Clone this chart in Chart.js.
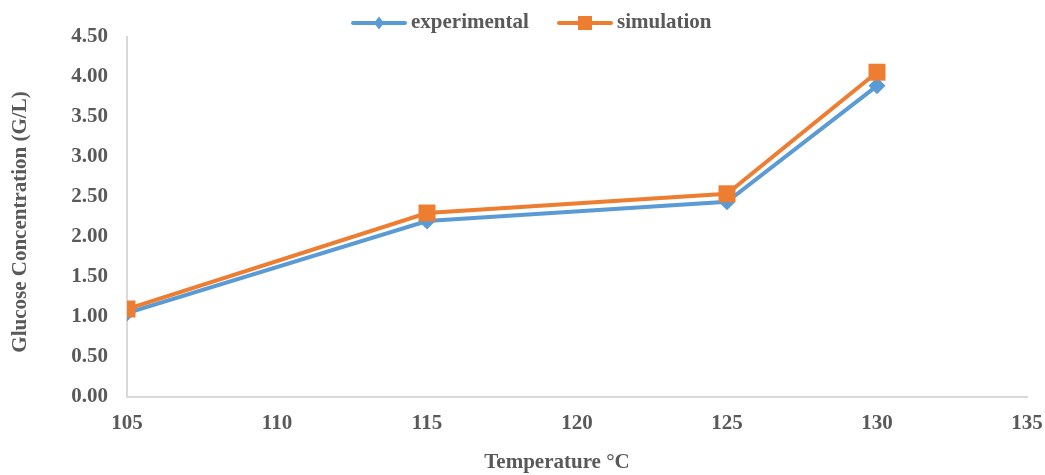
<!DOCTYPE html>
<html>
<head>
<meta charset="utf-8">
<script src="https://cdn.jsdelivr.net/npm/chart.js@4/dist/chart.umd.min.js"></script>
<style>
html,body{margin:0;padding:0;background:#fff;}
#wrap{width:1045px;height:475px;position:relative;}
</style>
</head>
<body>
<div id="wrap"><canvas id="c"></canvas></div>
<script>
const temperatures = [105, 115, 125, 130];
const experimental = [1.05, 2.20, 2.44, 3.89];
const simulation = [1.10, 2.30, 2.54, 4.06];
const seriesNames = ['experimental', 'simulation'];
const xTitle = 'Temperature °C';
const yTitle = 'Glucose Concentration (G/L)';

const BLUE = '#5B9BD5', ORANGE = '#ED7D31', TEXT = '#595959', AXIS = '#D9D9D9';
const FONT = 'Liberation Serif, Times New Roman, serif';

const toPts = arr => temperatures.map((t, i) => ({x: t, y: arr[i]}));

const legendPlugin = {
  id: 'customLegend',
  afterDraw(chart) {
    const ctx = chart.ctx;
    const items = [
      {name: seriesNames[0], color: BLUE, style: 'diamond', x: 353},
      {name: seriesNames[1], color: ORANGE, style: 'square', x: 559}
    ];
    const y = 23;
    ctx.save();
    items.forEach(it => {
      ctx.strokeStyle = it.color;
      ctx.lineWidth = 4;
      ctx.lineCap = 'round';
      ctx.beginPath();
      ctx.moveTo(it.x, y);
      ctx.lineTo(it.x + 52, y);
      ctx.stroke();
      ctx.fillStyle = it.color;
      const cx = it.x + 26;
      if (it.style === 'diamond') {
        ctx.beginPath();
        ctx.moveTo(cx, y - 6.5); ctx.lineTo(cx + 5, y); ctx.lineTo(cx, y + 6.5); ctx.lineTo(cx - 5, y);
        ctx.closePath(); ctx.fill();
      } else {
        ctx.fillRect(cx - 7, y - 7, 14, 14);
      }
      ctx.fillStyle = TEXT;
      ctx.font = 'bold 21px ' + FONT;
      ctx.textBaseline = 'middle';
      ctx.textAlign = 'left';
      ctx.fillText(it.name, it.x + 58, y);
    });
    // axis titles
    ctx.fillStyle = TEXT;
    ctx.font = 'bold 21px ' + FONT;
    ctx.textAlign = 'center';
    ctx.textBaseline = 'middle';
    ctx.fillText(xTitle, 557, 463);
    ctx.translate(21, 222);
    ctx.rotate(-Math.PI / 2);
    ctx.fillText(yTitle, 0, 0);
    ctx.restore();
  }
};

new Chart(document.getElementById('c'), {
  type: 'line',
  data: {
    datasets: [
      {
        label: seriesNames[0],
        data: toPts(experimental),
        borderColor: BLUE,
        backgroundColor: BLUE,
        borderWidth: 4,
        pointStyle: 'rectRot',
        pointRadius: 8.5,
        pointHoverRadius: 8.5,
        pointBorderWidth: 0,
        order: 2,
        tension: 0
      },
      {
        label: seriesNames[1],
        data: toPts(simulation),
        borderColor: ORANGE,
        backgroundColor: ORANGE,
        borderWidth: 4,
        pointStyle: 'rect',
        pointRadius: 12,
        pointHoverRadius: 12,
        pointBorderWidth: 0,
        order: 1,
        tension: 0
      }
    ]
  },
  options: {
    responsive: true,
    maintainAspectRatio: false,
    animation: false,
    events: [],
    layout: {padding: {top: 37, right: 18, left: 0, bottom: 0}},
    plugins: {legend: {display: false}, tooltip: {enabled: false}},
    scales: {
      x: {
        type: 'linear',
        min: 105, max: 135,
        ticks: {stepSize: 5, color: TEXT, font: {family: FONT, size: 21, weight: 'bold'}, padding: 14},
        grid: {display: false, drawTicks: false},
        border: {color: AXIS, width: 2},
        title: {display: false},
        afterFit(s) { s.height = 78; s.paddingLeft = 0; s.paddingRight = 0; }
      },
      y: {
        min: 0, max: 4.5,
        ticks: {stepSize: 0.5, color: TEXT, font: {family: FONT, size: 21, weight: 'bold'}, padding: 19,
          callback: v => Number(v).toFixed(2)},
        grid: {display: false, drawTicks: false},
        border: {color: AXIS, width: 2},
        title: {display: false},
        afterFit(s) { s.width = 127; s.paddingTop = 0; s.paddingBottom = 0; }
      }
    }
  },
  plugins: [legendPlugin]
});
</script>
</body>
</html>
